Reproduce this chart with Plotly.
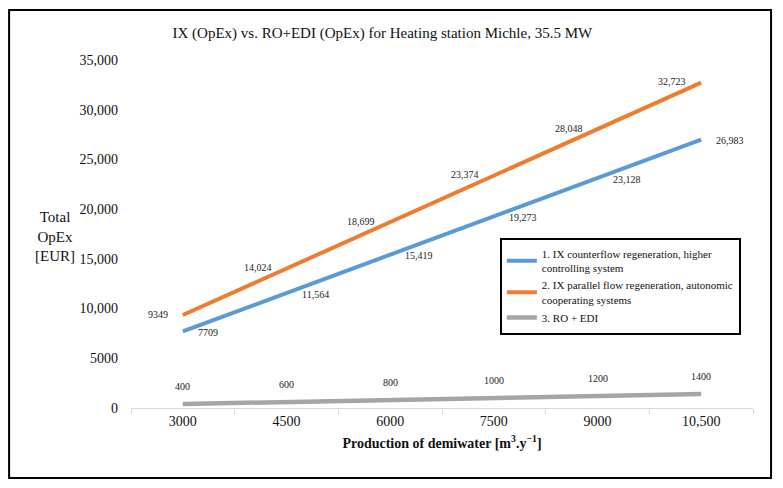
import plotly.graph_objects as go

categories = ["3000", "4500", "6000", "7500", "9000", "10,500"]
ix_counter = [7709, 11564, 15419, 19273, 23128, 26983]
ix_parallel = [9349, 14024, 18699, 23374, 28048, 32723]
ro_edi = [400, 600, 800, 1000, 1200, 1400]
ix_counter_labels = ["7709", "11,564", "15,419", "19,273", "23,128", "26,983"]
ix_parallel_labels = ["9349", "14,024", "18,699", "23,374", "28,048", "32,723"]
ro_edi_labels = ["400", "600", "800", "1000", "1200", "1400"]
y_tickvals = [0, 5000, 10000, 15000, 20000, 25000, 30000, 35000]
y_ticktext = ["0", "5000", "10,000", "15,000", "20,000", "25,000", "30,000", "35,000"]

FONT = "Palatino Linotype, Book Antiqua, Palatino, Liberation Serif, serif"
BLUE = "#5B9BD5"
ORANGE = "#ED7D31"
GRAY = "#A5A5A5"

fig = go.Figure()
fig.add_trace(go.Scatter(x=categories, y=ix_counter, mode="lines",
                         line=dict(color=BLUE, width=4),
                         name="1. IX counterflow regeneration, higher<br>controlling system"))
fig.add_trace(go.Scatter(x=categories, y=ix_parallel, mode="lines",
                         line=dict(color=ORANGE, width=4),
                         name="2. IX parallel flow regeneration, autonomic<br>cooperating systems"))
fig.add_trace(go.Scatter(x=categories, y=ro_edi, mode="lines",
                         line=dict(color=GRAY, width=4.5),
                         name="3. RO + EDI"))

# annotation x on a category axis: use the category's serial index
annotations = []
n = len(categories)
lab_font = dict(family=FONT, size=10, color="#222")
for i, (v, t) in enumerate(zip(ix_parallel, ix_parallel_labels)):
    annotations.append(dict(x=i, y=v, text=t, showarrow=False, xanchor="right",
                            yanchor="middle", xshift=-13, yshift=1, font=lab_font))
for i, (v, t) in enumerate(zip(ix_counter, ix_counter_labels)):
    annotations.append(dict(x=i, y=v, text=t, showarrow=False, xanchor="left",
                            yanchor="middle", xshift=13, yshift=-1, font=lab_font))
for i, (v, t) in enumerate(zip(ro_edi, ro_edi_labels)):
    annotations.append(dict(x=i, y=v, text=t, showarrow=False, xanchor="center",
                            yanchor="middle", xshift=0, yshift=18, font=lab_font))

annotations.append(dict(xref="paper", yref="paper", x=-0.122, y=0.494,
                        text="Total<br>OpEx<br>[EUR]", showarrow=False,
                        xanchor="center", yanchor="middle", align="center",
                        font=dict(family=FONT, size=15, color="#111")))

fig.update_layout(
    width=775, height=480,
    margin=dict(l=123, r=30, t=52, b=80),
    paper_bgcolor="white", plot_bgcolor="white",
    font=dict(family=FONT, color="#111"),
    title=dict(text="IX (OpEx) vs. RO+EDI (OpEx) for Heating station Michle, 35.5 MW",
               x=0.483, xanchor="center", y=0.948, yanchor="middle",
               font=dict(family=FONT, size=15, color="#111")),
    xaxis=dict(type="category", categoryorder="array", categoryarray=categories,
               range=[-0.5, n - 0.5],
               showgrid=False, showline=True, linecolor="#D9D9D9",
               linewidth=1, ticks="outside", ticklen=5, tickcolor="#D9D9D9",
               tickson="boundaries", tickfont=dict(family=FONT, size=14, color="#111"),
               title=dict(text="<b>Production of demiwater [m<sup>3</sup>.y<sup>−1</sup>]</b>",
                          font=dict(family=FONT, size=14, color="#111"), standoff=10),
               zeroline=False),
    yaxis=dict(range=[0, 35000], tickvals=y_tickvals, ticktext=y_ticktext,
               showgrid=False, showline=False, zeroline=False, ticks="",
               tickfont=dict(family=FONT, size=14, color="#111"), ticklabelstandoff=12),
    legend=dict(x=0.593, y=0.489, xanchor="left", yanchor="top",
                bordercolor="black", borderwidth=2, bgcolor="white",
                font=dict(family=FONT, size=11, color="#111"),
                tracegroupgap=0, itemwidth=30),
    annotations=annotations,
    shapes=[dict(type="rect", xref="paper", yref="paper",
                 x0=-0.196, x1=1.029, y0=-0.201, y1=1.144,
                 line=dict(color="black", width=2), fillcolor="rgba(0,0,0,0)")],
)

fig.write_html("out.html")
